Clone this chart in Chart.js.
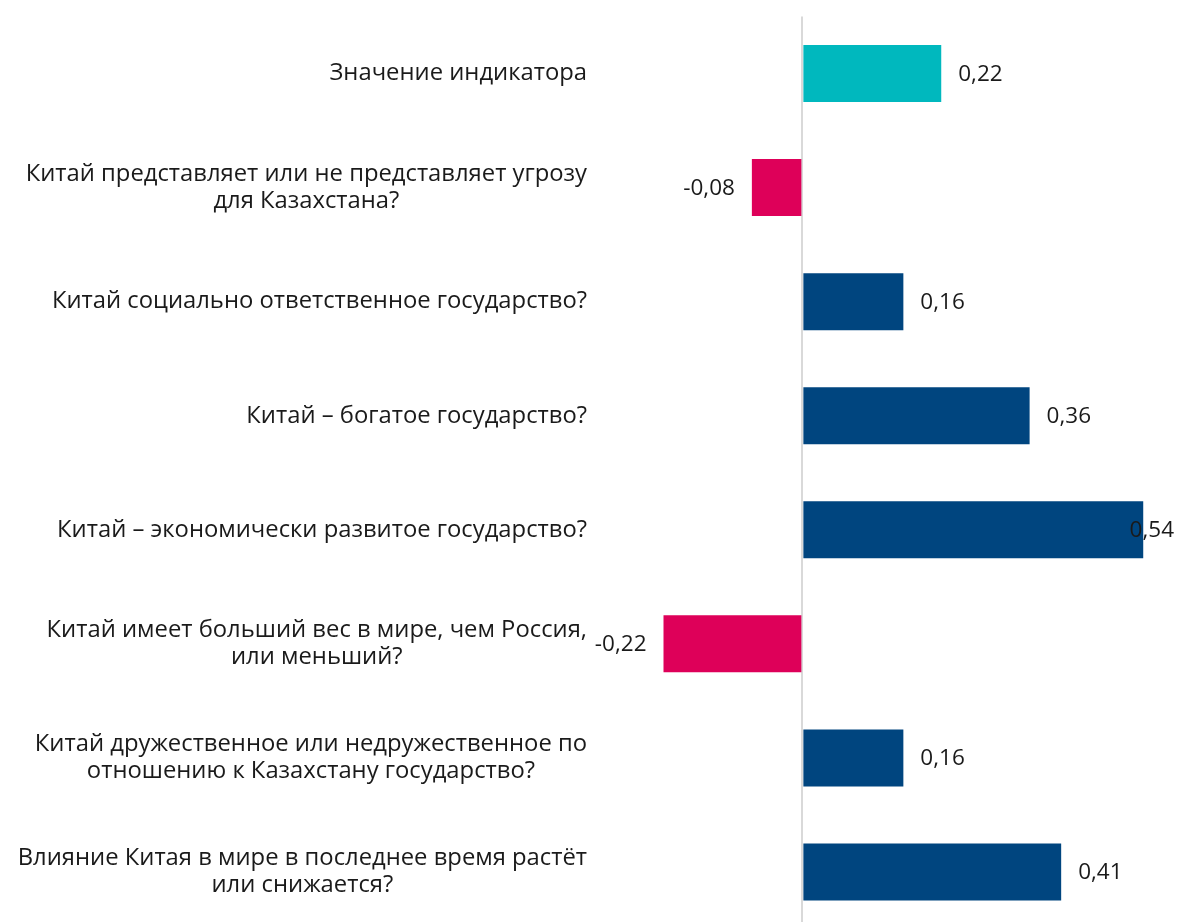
<!DOCTYPE html>
<html lang="ru">
<head>
<meta charset="utf-8">
<title>Восприятие Китая</title>
<script src="https://cdn.jsdelivr.net/npm/chart.js@4/dist/chart.umd.min.js"></script>
<style>
  html, body { margin: 0; padding: 0; background: #ffffff; overflow: hidden; }
  #chart { display: block; }
</style>
</head>
<body>
<canvas id="chart" width="1177" height="929"></canvas>
<script>
// Questions (multi-line ones are split into their display lines)
const categories = [
  'Значение индикатора',
  ['Китай представляет или не представляет угрозу', 'для Казахстана?'],
  'Китай социально ответственное государство?',
  'Китай – богатое государство?',
  'Китай – экономически развитое государство?',
  ['Китай имеет больший вес в мире, чем Россия,', 'или меньший?'],
  ['Китай дружественное или недружественное по', 'отношению к Казахстану государство?'],
  ['Влияние Китая в мире в последнее время растёт', 'или снижается?']
];

// Index value for each question
const values = [0.22, -0.08, 0.16, 0.36, 0.54, -0.22, 0.16, 0.41];

const TEAL = '#00B8BE';
const MAGENTA = '#DE0059';
const NAVY = '#00457F';
const FONT = '"Open Sans", "Noto Sans", sans-serif';

const barColors = values.map((v, i) => (i === 0 ? TEAL : v < 0 ? MAGENTA : NAVY));

const fmt = v => v.toFixed(2).replace('.', ',');

// Question texts drawn to the left of the plot, lines centred within each block
const categoryLabels = {
  id: 'categoryLabels',
  afterDraw(chart) {
    const { ctx, chartArea } = chart;
    const yScale = chart.scales.y;
    const rightEdge = chartArea.left - 26;
    const lineH = 27;
    ctx.save();
    ctx.font = '23.8px ' + FONT;
    ctx.fillStyle = '#1a1a1a';
    ctx.textAlign = 'center';
    ctx.textBaseline = 'middle';
    categories.forEach((label, i) => {
      const lines = Array.isArray(label) ? label : [label];
      const block = Math.max(...lines.map(l => ctx.measureText(l).width));
      const cx = rightEdge - block / 2;
      const yc = yScale.getPixelForValue(i);
      const y0 = yc - (lines.length - 1) * lineH / 2;
      lines.forEach((l, k) => ctx.fillText(l, cx, y0 + k * lineH));
    });
    ctx.restore();
  }
};

// Value next to the end of each bar
const valueLabels = {
  id: 'valueLabels',
  afterDatasetsDraw(chart) {
    const { ctx } = chart;
    const meta = chart.getDatasetMeta(0);
    ctx.save();
    ctx.font = '22.5px ' + FONT;
    ctx.fillStyle = '#1a1a1a';
    ctx.textBaseline = 'middle';
    meta.data.forEach((bar, i) => {
      const v = values[i];
      const text = fmt(v);
      const w = ctx.measureText(text).width;
      if (v >= 0) {
        let x = bar.x + 17;
        if (x + w > chart.width - 3) x = chart.width - 3 - w;
        ctx.textAlign = 'left';
        ctx.fillText(text, x, bar.y + 1);
      } else {
        ctx.textAlign = 'right';
        ctx.fillText(text, bar.x - 17, bar.y + 1);
      }
    });
    ctx.restore();
  }
};

new Chart(document.getElementById('chart'), {
  type: 'bar',
  data: {
    labels: categories,
    datasets: [{
      data: values,
      backgroundColor: barColors,
      borderWidth: 0,
      barPercentage: 0.5,
      categoryPercentage: 1.0
    }]
  },
  options: {
    indexAxis: 'y',
    responsive: false,
    animation: false,
    layout: { padding: { top: 16.5, right: 0, bottom: 0, left: 0 } },
    plugins: {
      legend: { display: false },
      tooltip: { enabled: false }
    },
    scales: {
      x: {
        min: -0.3,
        max: 0.5935,
        afterBuildTicks(scale) { scale.ticks = [{ value: 0 }]; },
        grid: { color: '#d9d9d9', lineWidth: 2, drawTicks: false },
        border: { display: false },
        ticks: { display: false }
      },
      y: {
        grid: { display: false },
        border: { display: false },
        ticks: { display: false },
        afterFit(scale) { scale.width = 613; }
      }
    }
  },
  plugins: [categoryLabels, valueLabels]
});
</script>
</body>
</html>
